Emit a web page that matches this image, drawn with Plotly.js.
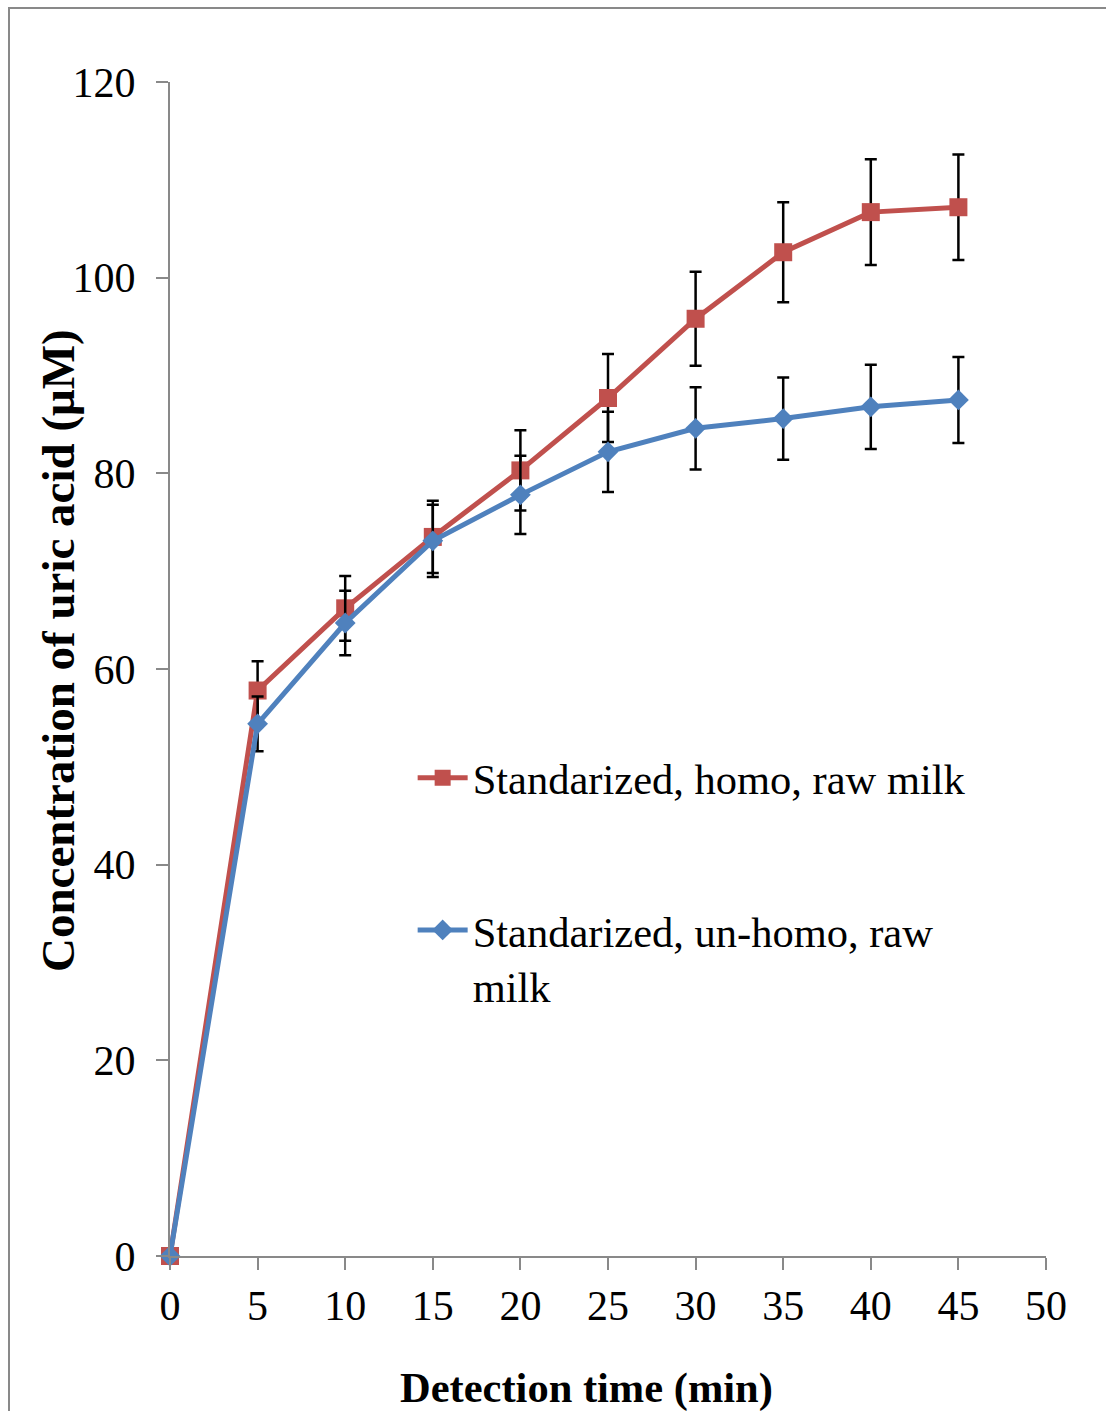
<!DOCTYPE html>
<html>
<head>
<meta charset="utf-8">
<script src="https://cdn.plot.ly/plotly-3.0.1.min.js"></script>
<style>
html,body{margin:0;padding:0;background:#fff;}
#wrap{position:relative;width:1106px;height:1411px;}
#chart{position:absolute;left:0;top:0;width:1106px;height:1411px;}
#frame{position:absolute;left:8px;top:7px;width:1106px;height:1420px;border:2px solid #898989;box-sizing:border-box;pointer-events:none;}
</style>
</head>
<body>
<div id="wrap"><div id="chart"></div><div id="frame"></div></div>
<script>
const time = [0, 5, 10, 15, 20, 25, 30, 35, 40, 45];
const homoName = "Standarized, homo, raw milk";
const homo = [0, 57.8, 66.2, 73.5, 80.3, 87.7, 95.8, 102.6, 106.7, 107.2];
const homoErr = [0, 3.0, 3.3, 3.7, 4.1, 4.5, 4.8, 5.1, 5.4, 5.4];
const unhomoName = "Standarized, un-homo, raw<br>milk";
const unhomo = [0, 54.4, 64.7, 73.1, 77.8, 82.2, 84.6, 85.6, 86.8, 87.5];
const unhomoErr = [0, 2.8, 3.3, 3.7, 4.0, 4.1, 4.2, 4.2, 4.3, 4.4];
const xTicks = [0, 5, 10, 15, 20, 25, 30, 35, 40, 45, 50];
const yTicks = [0, 20, 40, 60, 80, 100, 120];
const xTitle = "Detection time (min)";
const yTitle = "Concentration of uric acid (μM)";

const serif = "Liberation Serif, Times New Roman, serif";

const traces = [
  {
    x: time, y: homo, name: homoName, type: "scatter", mode: "lines+markers",
    cliponaxis: false,
    line: {color: "#C0504D", width: 5},
    marker: {symbol: "square", size: 18, color: "#C0504D"},
    error_y: {type: "data", array: homoErr, visible: true, color: "#000", thickness: 2.5, width: 6},
    legend: "legend"
  },
  {
    x: time, y: unhomo, name: unhomoName, type: "scatter", mode: "lines+markers",
    cliponaxis: false,
    line: {color: "#4F81BD", width: 5},
    marker: {symbol: "diamond", size: 16, color: "#4F81BD"},
    error_y: {type: "data", array: unhomoErr, visible: true, color: "#000", thickness: 2.5, width: 6},
    legend: "legend2"
  }
];

const legFont = {family: serif, size: 42.5, color: "#000"};
const layout = {
  width: 1106, height: 1411,
  margin: {l: 170, r: 60, t: 82, b: 155},
  paper_bgcolor: "#fff", plot_bgcolor: "#fff",
  showlegend: true,
  xaxis: {
    range: [0, 50], tickvals: xTicks, ticktext: xTicks.map(String),
    showgrid: false, zeroline: false, showline: true, linecolor: "#898989", linewidth: 2,
    ticks: "outside", ticklen: 12, tickwidth: 2, tickcolor: "#898989",
    tickfont: {family: serif, size: 42, color: "#000"}
  },
  yaxis: {
    range: [0, 120], tickvals: yTicks, ticktext: yTicks.map(String),
    showgrid: false, zeroline: false, showline: true, linecolor: "#898989", linewidth: 2,
    ticks: "outside", ticklen: 12, tickwidth: 2, tickcolor: "#898989",
    ticklabelstandoff: 12,
    tickfont: {family: serif, size: 42, color: "#000"}
  },
  annotations: [
    {text: "<b>" + xTitle + "</b>", xref: "paper", yref: "paper",
     x: (586 - 170) / 876, y: -(1388 - 1256) / 1174, xanchor: "center", yanchor: "middle",
     showarrow: false, font: {family: serif, size: 42.5, color: "#000"}},
    {text: "<b>" + yTitle + "</b>", xref: "paper", yref: "paper", textangle: -90,
     x: (58 - 170) / 876, y: (1256 - 651) / 1174, xanchor: "center", yanchor: "middle",
     showarrow: false, font: {family: serif, size: 47, color: "#000"}}
  ],
  legend: {
    x: 0.277, y: 0.407, xanchor: "left", yanchor: "middle",
    bgcolor: "rgba(0,0,0,0)", font: legFont, itemwidth: 50
  },
  legend2: {
    x: 0.277, y: 0.254, xanchor: "left", yanchor: "middle",
    bgcolor: "rgba(0,0,0,0)", font: legFont, itemwidth: 50, valign: "top"
  }
};

Plotly.newPlot("chart", traces, layout, {displayModeBar: false, staticPlot: true});
</script>
</body>
</html>
